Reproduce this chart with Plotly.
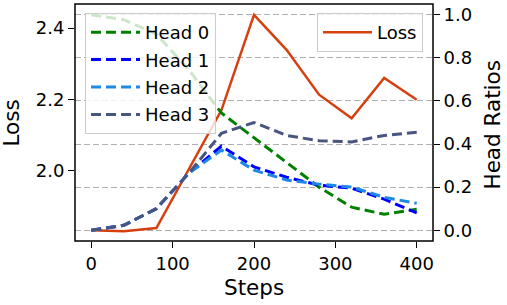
import plotly.graph_objects as go

steps = [0, 40, 80, 120, 160, 200, 240, 280, 320, 360, 400]
loss = [1.833, 1.830, 1.839, 2.005, 2.170, 2.437, 2.339, 2.213, 2.147, 2.260, 2.199]
head0 = [1.0, 0.977, 0.91, 0.744, 0.544, 0.43, 0.316, 0.20, 0.107, 0.074, 0.097]
head1 = [0.0, 0.023, 0.10, 0.265, 0.39, 0.294, 0.246, 0.209, 0.195, 0.144, 0.08]
head2 = [0.0, 0.023, 0.10, 0.265, 0.372, 0.279, 0.233, 0.214, 0.20, 0.153, 0.125]
head3 = [0.0, 0.023, 0.10, 0.265, 0.45, 0.50, 0.44, 0.415, 0.41, 0.44, 0.455]
head_names = ["Head 0", "Head 1", "Head 2", "Head 3"]
head_colors = ["#008000", "#0000ff", "#1e88e5", "#47557f"]
loss_color = "#d6400f"
x_ticks = [0, 100, 200, 300, 400]
loss_ticks = [2.0, 2.2, 2.4]
ratio_ticks = [0.0, 0.2, 0.4, 0.6, 0.8, 1.0]

FONT = "DejaVu Sans"
TICK = 18
TITLE = 21.5

fig = go.Figure()
fig.add_trace(go.Scatter(x=steps, y=loss, mode="lines", name="Loss",
                         line=dict(color=loss_color, width=2.5),
                         yaxis="y", legend="legend2"))
for name, vals, col in zip(head_names, [head0, head1, head2, head3], head_colors):
    fig.add_trace(go.Scatter(x=steps, y=vals, mode="lines", name=name,
                             legendgroup=name,
                             line=dict(color=col, width=3, dash="10px,5px"),
                             yaxis="y2", legend="legend"))

axis_common = dict(showline=False, automargin=False,
                   ticks="outside", ticklen=6, tickwidth=1.2, tickcolor="black",
                   tickfont=dict(family=FONT, size=TICK, color="black"),
                   zeroline=False)

fig.update_layout(
    width=507, height=305,
    margin=dict(l=75, r=74, t=4, b=64),
    paper_bgcolor="white", plot_bgcolor="white",
    font=dict(family=FONT, color="black"),
    xaxis=dict(range=[-20, 420], tickvals=x_ticks, showgrid=False, **axis_common),
    yaxis=dict(range=[1.8025, 2.4675], tickvals=loss_ticks,
               ticktext=[f"{v:.1f}" for v in loss_ticks],
               showgrid=False, **axis_common),
    yaxis2=dict(range=[-0.05, 1.05], tickvals=ratio_ticks,
                ticktext=[f"{v:.1f}" for v in ratio_ticks],
                overlaying="y", side="right", showgrid=True,
                gridcolor="#b0b0b0", gridwidth=1, griddash="6px,3px",
                **axis_common),
    legend=dict(x=0.028, y=0.962, xanchor="left", yanchor="top",
                bgcolor="rgba(255,255,255,0.8)", bordercolor="#cccccc", borderwidth=1,
                font=dict(family=FONT, size=TICK, color="black"),
                tracegroupgap=1, itemwidth=49),
    legend2=dict(x=0.972, y=0.962, xanchor="right", yanchor="top",
                 bgcolor="rgba(255,255,255,0.8)", bordercolor="#cccccc", borderwidth=1,
                 font=dict(family=FONT, size=TICK, color="black"), itemwidth=49),
    showlegend=True,
    shapes=[dict(type="rect", xref="paper", yref="paper", x0=0, x1=1, y0=0, y1=1,
                 line=dict(color="black", width=1.5), layer="above")],
    annotations=[
        dict(text="Steps", xref="paper", yref="paper", x=0.5, y=-0.197,
             xanchor="center", yanchor="middle", showarrow=False,
             font=dict(family=FONT, size=TITLE, color="black")),
        dict(text="Loss", xref="paper", yref="paper", x=-0.176, y=0.5,
             xanchor="center", yanchor="middle", showarrow=False, textangle=-90,
             font=dict(family=FONT, size=TITLE, color="black")),
        dict(text="Head Ratios", xref="paper", yref="paper", x=1.166, y=0.489,
             xanchor="center", yanchor="middle", showarrow=False, textangle=-90,
             font=dict(family=FONT, size=TITLE, color="black")),
    ],
)

fig.write_html("out.html", config={"displayModeBar": False},
               post_script="document.body.style.margin='0';document.body.style.padding='0';")
